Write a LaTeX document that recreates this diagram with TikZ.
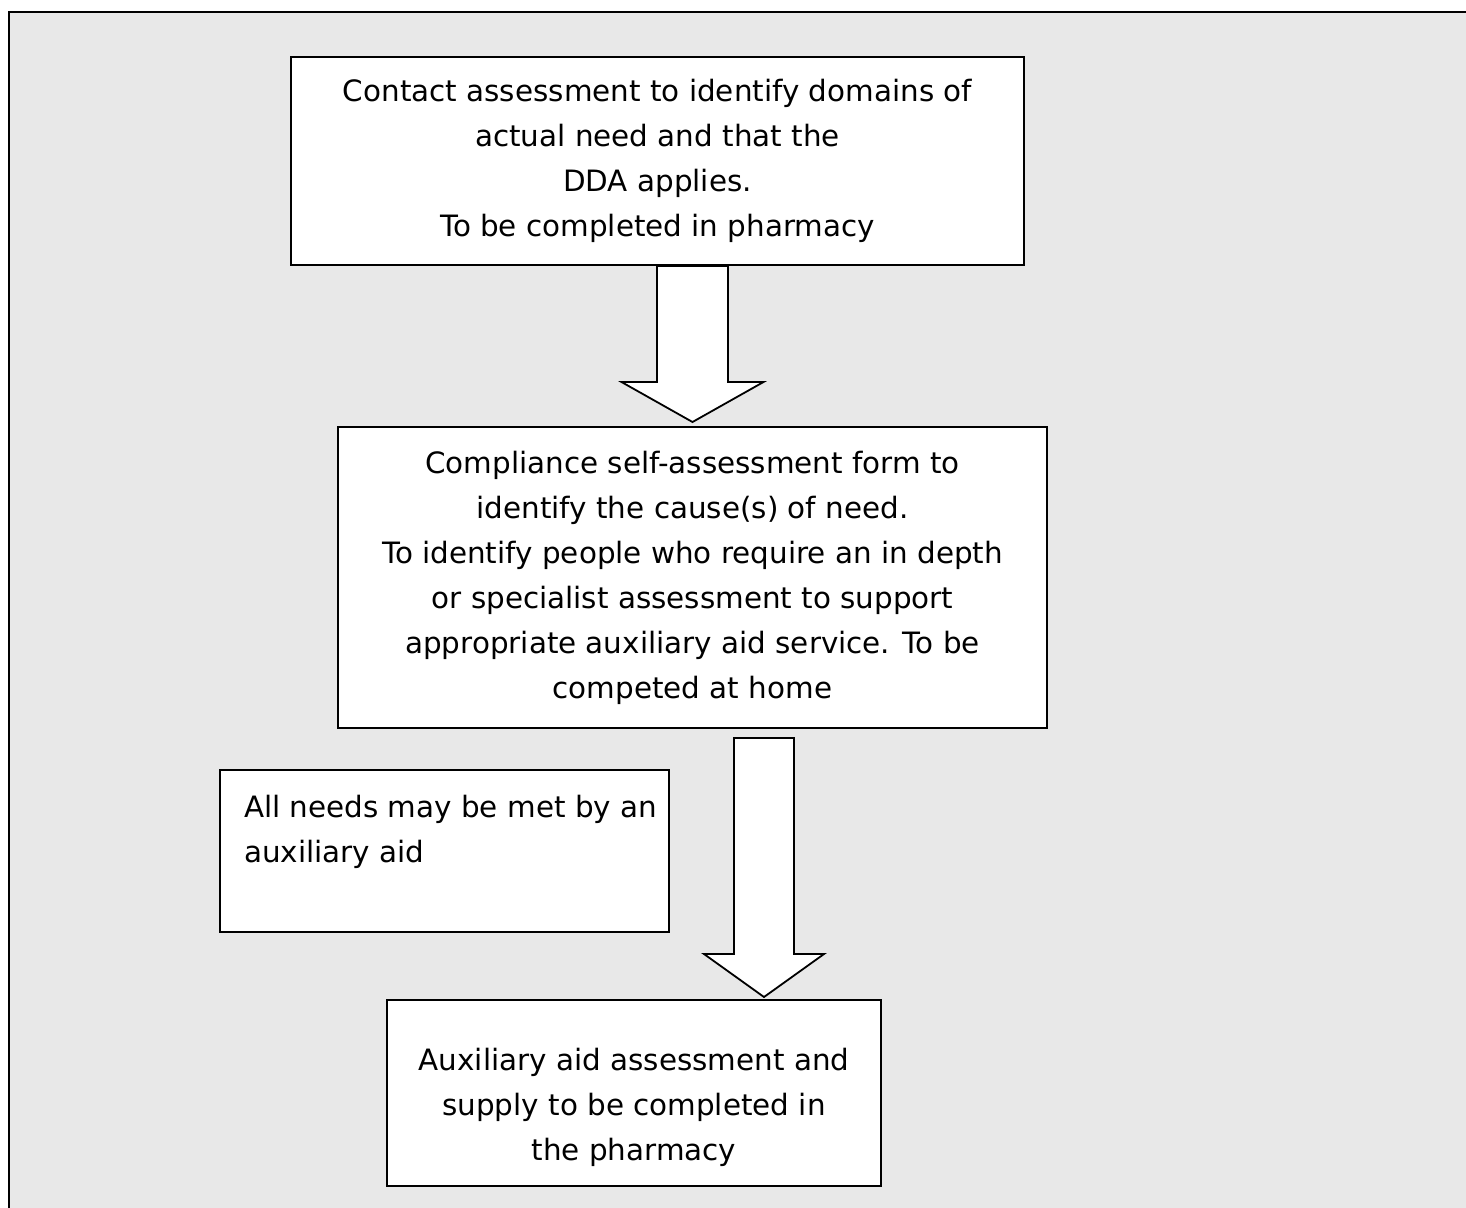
\documentclass[tikz,border=0pt]{standalone}
\usepackage{fontspec}
\setmainfont{DejaVu Sans}
\usetikzlibrary{calc}

\definecolor{panelgray}{HTML}{E8E8E8}

\tikzset{
  box/.style={draw, fill=white, line width=1pt, align=center, inner sep=0pt,
    font=\fontsize{14.7}{22.5}\selectfont},
  arrowline/.style={draw, fill=white, line width=0.9pt, line join=miter},
  fatarrow/.style n args={3}{to path={let \p1=(\tikztostart), \p2=(\tikztotarget) in
      (\x1-#1,\y1) -- (\x1-#1,\y2+#3) -- (\x1-#2,\y2+#3) -- (\x2,\y2)
      -- (\x1+#2,\y2+#3) -- (\x1+#1,\y2+#3) -- (\x1+#1,\y1) -- cycle}},
}

\begin{document}
\begin{tikzpicture}[x=0.5pt, y=-0.5pt]
        \useasboundingbox (0,0) rectangle (1466,1207);
        % panel
        \filldraw[fill=panelgray, draw=black, line width=1pt] (9,12) rectangle (1490,1230);

        % boxes
        \node[box, minimum width=366.5pt, minimum height=104pt] (contact) at (657.5,161)
          {Contact assessment to identify domains of\\actual need and that the\\DDA applies.\\To be completed in pharmacy};
        \node[box, minimum width=354.5pt, minimum height=150.5pt] (selfform) at (692.5,577.5)
          {Compliance self-assessment form to\\identify the cause(s) of need.\\To identify people who require an in depth\\or specialist assessment to support\\appropriate auxiliary aid service. To be\\competed at home};
        \node[box, align=left, minimum width=224.5pt, minimum height=81pt] (allneeds) at (444.5,851)
          {\makebox[200.5pt][l]{All needs may be met by an}\\auxiliary aid\\\mbox{}};
        \node[box, minimum width=247pt, minimum height=93pt] (aidsupply) at (634,1093)
          {\rule{0pt}{26pt}Auxiliary aid assessment and\\supply to be completed in\\the pharmacy};

        % arrows
        \coordinate (a2s) at (764,738);
        \coordinate (a2e) at (764,997);
        \filldraw[arrowline] (contact.south -| selfform.north)
          to[fatarrow={17.75pt}{35.5pt}{20pt}] ($(selfform.north)+(0,-4)$);
        \filldraw[arrowline] (a2s) to[fatarrow={15pt}{30pt}{21.5pt}] (a2e);
    \end{tikzpicture}
\end{document}
